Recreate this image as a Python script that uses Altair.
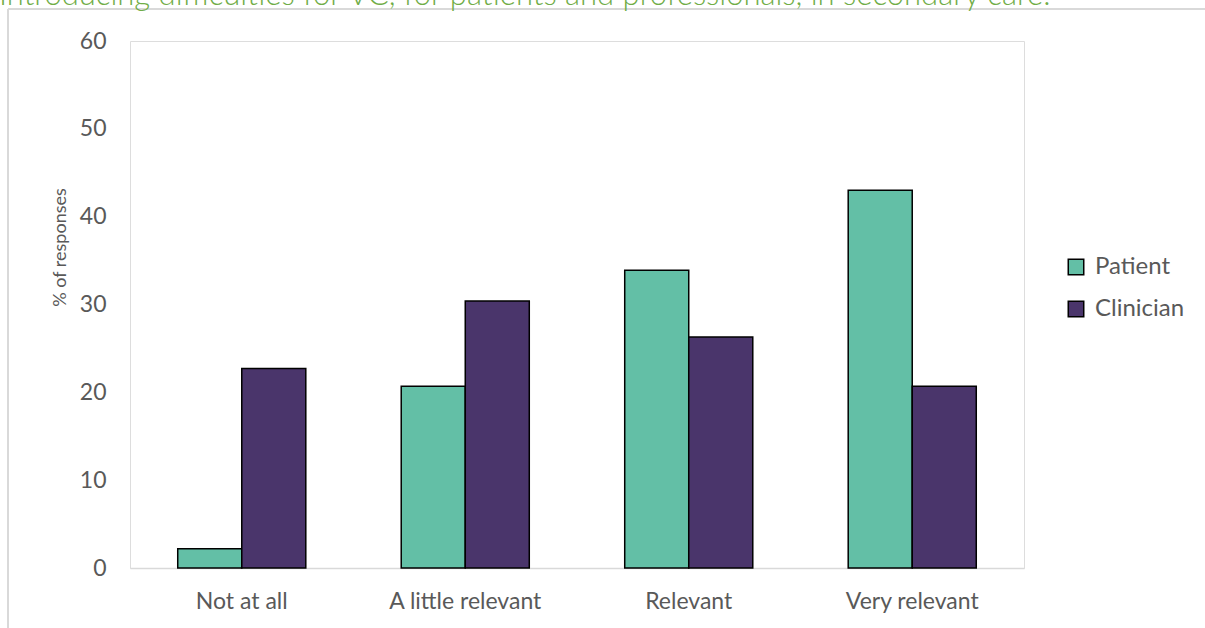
import altair as alt
import pandas as pd

categories = ["Not at all", "A little relevant", "Relevant", "Very relevant"]
groups = ["Patient", "Clinician"]
patient = [2.2, 20.7, 33.9, 43.0]
clinician = [22.7, 30.4, 26.3, 20.7]
y_ticks = [0, 10, 20, 30, 40, 50, 60]
title_text = "Introducing difficulties for VC, for patients and professionals, in secondary care."
colors = ["#63BFA6", "#4A356B"]

rows = []
for i, c in enumerate(categories):
    rows.append({"category": c, "group": "Patient", "value": patient[i]})
    rows.append({"category": c, "group": "Clinician", "value": clinician[i]})
df = pd.DataFrame(rows)

FONT = "Lato"
GREY = "#595959"

bars = alt.Chart(df).mark_bar(stroke="black", strokeWidth=1.5).encode(
    x=alt.X("category:N", sort=categories,
            scale=alt.Scale(paddingInner=0.427, paddingOuter=0.2136),
            axis=alt.Axis(title=None, labelAngle=0, ticks=False, domainColor="#d9d9d9",
                          domainWidth=1.5, labelFontSize=23, labelColor=GREY,
                          labelFont=FONT, labelPadding=22)),
    xOffset=alt.XOffset("group:N", sort=groups, scale=alt.Scale(paddingInner=0, paddingOuter=0)),
    y=alt.Y("value:Q", scale=alt.Scale(domain=[0, 60], nice=False),
            axis=alt.Axis(title="% of responses", values=y_ticks, grid=False, ticks=False,
                          domain=False, labelFontSize=23, labelColor=GREY, labelFont=FONT,
                          labelPadding=24, titleFontSize=18, titleFontWeight="normal",
                          titleColor=GREY, titleFont=FONT, titleX=-70, titleY=206,
                          titleAngle=270, titleAlign="center", titleBaseline="middle")),
    color=alt.Color("group:N", sort=groups,
                    scale=alt.Scale(domain=groups, range=colors),
                    legend=alt.Legend(title=None, orient="none", legendX=934, legendY=214,
                                      symbolType="square", symbolSize=240,
                                      symbolStrokeColor="black", symbolStrokeWidth=1.5,
                                      labelFontSize=24, labelColor=GREY, labelFont=FONT,
                                      rowPadding=18, labelOffset=7)),
)

title = alt.Chart(alt.Data(values=[{"t": title_text}])).mark_text(
    align="left", baseline="alphabetic", fontSize=31, font=FONT, fontWeight=300,
    color="#70AD47"
).encode(x=alt.value(-131), y=alt.value(-36), text="t:N")

frame_left = alt.Chart(alt.Data(values=[{}])).mark_rule(color="#d9d9d9", strokeWidth=2).encode(
    x=alt.value(-122), y=alt.value(-32), y2=alt.value(600))
frame_top = alt.Chart(alt.Data(values=[{}])).mark_rule(color="#d9d9d9", strokeWidth=2).encode(
    x=alt.value(-122), x2=alt.value(1100), y=alt.value(-32))

chart = alt.layer(frame_left, frame_top, bars, title).properties(
    width=894, height=527,
    autosize=alt.AutoSizeParams(type="none"),
    padding={"left": 130, "top": 41, "right": 181, "bottom": 60},
).configure_view(stroke="#7f7f7f", strokeWidth=1.5).configure(background="white")

chart.save("out.html", embed_options={"renderer": "svg", "actions": False})
